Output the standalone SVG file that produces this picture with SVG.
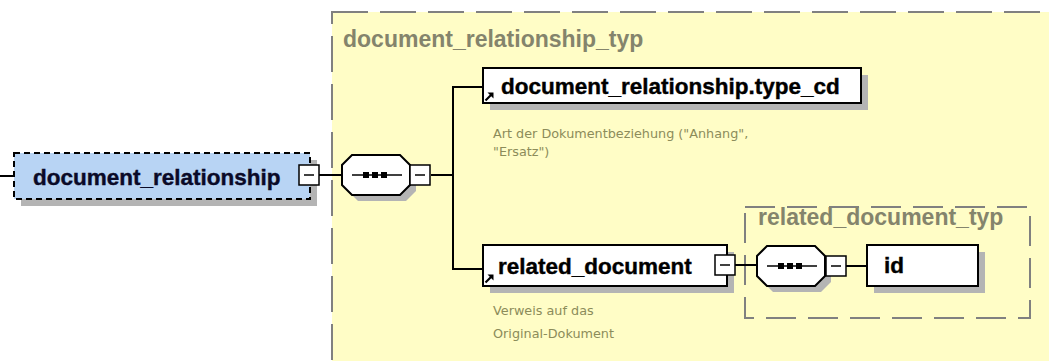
<svg xmlns="http://www.w3.org/2000/svg" width="1049" height="361" viewBox="0 0 1049 361">
<defs>
<style>
.bg{fill:#ffffff}
.type{fill:#fffdc6;stroke:#808080;stroke-width:2;stroke-dasharray:36 12}
.itype{fill:#fffdc6;stroke:#808080;stroke-width:2;stroke-dasharray:30 12}
.title{font-family:"Liberation Sans",Arial,sans-serif;font-weight:bold;font-size:23px;fill:#84846c}
.box{fill:#ffffff;stroke:#000000;stroke-width:2}
.shadow{fill:#b4b4b4}
.name{font-family:"Liberation Sans",Arial,sans-serif;font-weight:bold;font-size:22.5px;fill:#000000;stroke:#000000;stroke-width:0.4}
.desc{font-family:"DejaVu Sans",Verdana,sans-serif;font-size:12.8px;fill:#8c8c5a}
.line{stroke:#000000;stroke-width:2;fill:none}
.mbox{fill:#ffffff;stroke:#000000;stroke-width:1.5}
.dot{fill:#000000}
</style>
<g id="arrowicon">
<path d="M0.5,8.5 L6,3" stroke="#000" stroke-width="2.2"/>
<path d="M2.5,0.5 L8.5,0.5 L8.5,6.5 Z" fill="#000"/>
</g>
<g id="seq">
<polygon points="10,0 58,0 68,10 68,30 58,40 10,40 0,30 0,10" transform="translate(6,6)" class="shadow"/>
<polygon points="10,0 58,0 68,10 68,30 58,40 10,40 0,30 0,10" fill="#ffffff" stroke="#000" stroke-width="2"/>
<line x1="10" y1="20" x2="60" y2="20" stroke="#000" stroke-width="1.5"/>
<rect x="21" y="17" width="6" height="6" class="dot"/>
<rect x="30" y="17" width="6" height="6" class="dot"/>
<rect x="39" y="17" width="6" height="6" class="dot"/>
</g>
<g id="minus">
<rect x="0" y="0" width="20" height="20" class="mbox"/>
<line x1="5" y1="10" x2="15" y2="10" stroke="#000" stroke-width="1.5"/>
</g>
</defs>
<rect x="0" y="0" width="1049" height="361" class="bg"/>

<g id="document_relationship_typ">
<rect x="332" y="12" width="740" height="370" class="type"/>
<text x="343" y="47" class="title">document_relationship_typ</text>
</g>

<g id="related_document_typ">
<rect x="745" y="207" width="285" height="111" class="itype"/>
<text x="758" y="225" class="title">related_document_typ</text>
</g>

<g id="connectors">
<line x1="0" y1="176" x2="14" y2="176" class="line"/>
<line x1="318" y1="175" x2="342" y2="175" class="line"/>
<line x1="431" y1="175" x2="453" y2="175" class="line"/>
<polyline points="483,87 453,87 453,269 483,269" class="line"/>
<line x1="735" y1="265" x2="757" y2="265" class="line"/>
<line x1="846" y1="266" x2="867" y2="266" class="line"/>
</g>

<g id="document_relationship">
<rect x="21" y="160" width="296" height="46" class="shadow"/>
<rect x="14" y="153" width="296" height="46" fill="#b8d4f4" stroke="#000" stroke-width="2" stroke-dasharray="6 4"/>
<text x="33" y="185" class="name" style="fill:#0a0a28;stroke:#0a0a28">document_relationship</text>
<use href="#minus" x="299" y="165"/>
</g>

<g id="sequence1">
<use href="#seq" x="342" y="155"/>
<use href="#minus" x="410" y="165"/>
</g>

<g id="document_relationship.type_cd">
<rect x="490" y="75" width="378" height="35" class="shadow"/>
<rect x="483" y="68" width="378" height="35" class="box"/>
<text x="501" y="94" class="name">document_relationship.type_cd</text>
<use href="#arrowicon" x="485" y="92"/>
<text x="493" y="138" class="desc">Art der Dokumentbeziehung ("Anhang",</text>
<text x="493" y="156" class="desc">"Ersatz")</text>
</g>

<g id="related_document">
<rect x="490" y="252" width="244" height="41" class="shadow"/>
<rect x="483" y="245" width="244" height="41" class="box"/>
<text x="498" y="274" class="name">related_document</text>
<use href="#arrowicon" x="485" y="274"/>
<use href="#minus" x="715" y="255"/>
<text x="493" y="315" class="desc">Verweis auf das</text>
<text x="493" y="338" class="desc">Original-Dokument</text>
</g>

<g id="sequence2">
<use href="#seq" x="757" y="246"/>
<use href="#minus" x="826" y="256"/>
</g>

<g id="id">
<rect x="874" y="252" width="111" height="41" class="shadow"/>
<rect x="867" y="245" width="111" height="41" class="box"/>
<text x="884" y="273" class="name">id</text>
</g>
</svg>
